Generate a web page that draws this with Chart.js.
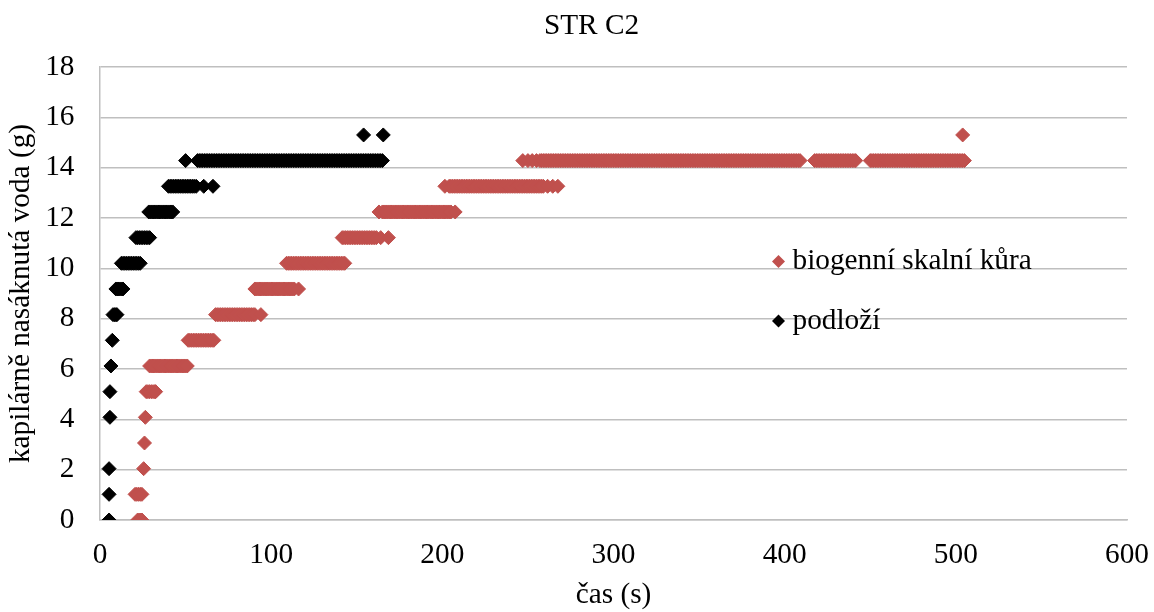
<!DOCTYPE html>
<html>
<head>
    <meta charset="utf-8">
    <title>STR C2</title>
    <script src="https://cdn.jsdelivr.net/npm/chart.js"></script>
    <style>
        html, body {
            margin: 0;
            padding: 0;
            background-color: #ffffff;
        }

        #chartBox {
            width: 1154px;
            height: 612px;
        }
    </style>
</head>
<body>
    <div id="chartBox">
        <canvas id="strChart" width="1154" height="612"></canvas>
    </div>

    <script>
        // mass of absorbed water (g), one level per row of the time arrays below
        var waterLevels = [0, 1.02, 2.04, 3.06, 4.08, 5.10, 6.12, 7.14, 8.16, 9.18, 10.20, 11.22, 12.24, 13.26, 14.28, 15.30];

        // times (s) at which each level was read - biogenní skalní kůra
        var biogenniTimes = [
            [22, 23, 24, 24.5],
            [20.5, 21.5, 22.5, 23.5, 24.5],
            [25.5],
            [26],
            [26.5],
            [27, 28, 29, 30, 31, 32, 32.5],
            [29, 30, 31, 32, 33, 34, 35, 36, 37, 38, 39, 40, 41, 42, 43, 44, 45, 46, 47, 48, 49, 50, 51],
            [51.5, 52.5, 53.5, 54.5, 55.5, 56.5, 57.5, 58.5, 59.5, 60.5, 61.5, 62.5, 63.5, 64.5, 65.5, 66.5],
            [67.5, 68.5, 69.5, 70.5, 71.5, 72.5, 73.5, 74.5, 75.5, 76.5, 77.5, 78.5, 79.5, 80.5, 81.5, 82.5,
             83.5, 84.5, 85.5, 86.5, 87.5, 88.5, 89.5, 90.5, 94],
            [90.5, 91.5, 92.5, 93.5, 94.5, 95.5, 96.5, 97.5, 98.5, 99.5, 100.5, 101.5, 102.5, 103.5, 104.5,
             105.5, 106.5, 107.5, 108.5, 109.5, 110.5, 111.5, 112.5, 113.5, 116],
            [109, 110, 111, 112, 113, 114, 115, 116, 117, 118, 119, 120, 121, 122, 123, 124, 125, 126, 127, 128,
             129, 130, 131, 132, 133, 134, 135, 136, 137, 138, 139, 140, 141, 142, 143],
            [141.5, 142.5, 143.5, 144.5, 145.5, 146.5, 147.5, 148.5, 149.5, 150.5, 151.5, 152.5, 153.5, 154.5,
             155.5, 156.5, 157.5, 158.5, 159.5, 160.5, 161.5, 164, 168.5],
            [163, 165, 166, 167, 168, 169, 170, 171, 172, 173, 174, 175, 176, 177, 178, 179, 180, 181, 182, 183,
             184, 185, 186, 187, 188, 189, 190, 191, 192, 193, 194, 195, 196, 197, 198, 199, 200, 201, 202, 203,
             204, 205, 207.5],
            [201.5, 204, 205, 206, 207, 208, 209, 210, 211, 212, 213, 214, 215, 216, 217, 218, 219, 220, 221, 222,
             223, 224, 225, 226, 227, 228, 229, 230, 231, 232, 233, 234, 235, 236, 237, 238, 239, 240, 241, 242,
             243, 244, 245, 246, 247, 248, 249, 250, 251, 252, 253, 254, 255, 256, 257, 258, 259, 261.5, 264.5, 267.5],
            [247, 250, 252.5, 255, 257,
             258, 259, 260, 261, 262, 263, 264, 265, 266, 267, 268, 269, 270, 271, 272, 273, 274, 275, 276, 277,
             278, 279, 280, 281, 282, 283, 284, 285, 286, 287, 288, 289, 290, 291, 292, 293, 294, 295, 296, 297,
             298, 299, 300, 301, 302, 303, 304, 305, 306, 307, 308, 309, 310, 311, 312, 313, 314, 315, 316, 317,
             318, 319, 320, 321, 322, 323, 324, 325, 326, 327, 328, 329, 330, 331, 332, 333, 334, 335, 336, 337,
             338, 339, 340, 341, 342, 343, 344, 345, 346, 347, 348, 349, 350, 351, 352, 353, 354, 355, 356, 357,
             358, 359, 360, 361, 362, 363, 364, 365, 366, 367, 368, 369, 370, 371, 372, 373, 374, 375, 376, 377,
             378, 379, 380, 381, 382, 383, 384, 385, 386, 387, 388, 389, 390, 391, 392, 393, 394, 395, 396, 397,
             398, 399, 400, 401, 402, 403, 404, 405, 406, 407, 408, 409,
             417.5, 418.5, 419.5, 420.5, 421.5, 422.5, 423.5, 424.5, 425.5, 426.5, 427.5, 428.5, 429.5, 430.5,
             431.5, 432.5, 433.5, 434.5, 435.5, 436.5, 437.5, 438.5, 439.5, 440.5, 441.5,
             450, 451, 452, 453, 454, 455, 456, 457, 458, 459, 460, 461, 462, 463, 464, 465, 466, 467, 468, 469,
             470, 471, 472, 473, 474, 475, 476, 477, 478, 479, 480, 481, 482, 483, 484, 485, 486, 487, 488, 489,
             490, 491, 492, 493, 494, 495, 496, 497, 498, 499, 500, 501, 502, 503, 504, 505],
            [504]
        ];

        // times (s) at which each level was read - podloží
        var podloziTimes = [
            [5.3],
            [5.3],
            [5.3],
            [],
            [5.8],
            [5.8],
            [6.4],
            [7.2],
            [7.6, 8.5, 9.3, 9.9],
            [9.3, 10.5, 11.5, 12.5, 13.4],
            [12.5, 13.5, 14.5, 15.5, 16.5, 17.5, 18.5, 19.5, 20.5, 21.5, 22.5, 23.5],
            [21, 22, 23, 24, 25, 26, 27, 28, 29],
            [28.5, 29.5, 30.5, 31.5, 32.5, 33.5, 34.5, 35.5, 36.5, 37.5, 38.5, 39.5, 40.5, 41.5, 42.5],
            [40, 41, 42, 43, 44, 45, 46, 47, 48, 49, 50, 51, 52, 53, 54, 55, 56.2, 60.6, 66],
            [50,
             57, 58, 59, 60, 61, 62, 63, 64, 65, 66, 67, 68, 69, 70, 71, 72, 73, 74, 75, 76,
             77, 78, 79, 80, 81, 82, 83, 84, 85, 86, 87, 88, 89, 90, 91, 92, 93, 94, 95, 96,
             97, 98, 99, 100, 101, 102, 103, 104, 105, 106, 107, 108, 109, 110, 111, 112, 113, 114, 115, 116,
             117, 118, 119, 120, 121, 122, 123, 124, 125, 126, 127, 128, 129, 130, 131, 132, 133, 134, 135, 136,
             137, 138, 139, 140, 141, 142, 143, 144, 145, 146, 147, 148, 149, 150, 151, 152, 153, 154, 155, 156,
             157, 158, 159, 160, 161, 162, 163, 164, 165],
            [154, 165.5]
        ];

        var seriesNames = ['biogenní skalní kůra', 'podloží'];
        var seriesColors = ['#C0504D', '#000000'];
        var chartTitle = 'STR C2';

        var serif = "'Liberation Serif', 'Times New Roman', serif";
        var textSize = 29.3;
        var gridColor = '#bfbfbf';

        function toPoints(times) {
            var points = [];
            for (var i = 0; i < times.length; i++) {
                for (var j = 0; j < times[i].length; j++) {
                    points.push({ x: times[i][j], y: waterLevels[i] });
                }
            }
            return points;
        }

        // title is offset to the right of the canvas centre, like in the sheet
        var sheetTitle = {
            id: 'sheetTitle',
            afterDraw: function (chart) {
                var ctx = chart.ctx;
                ctx.save();
                ctx.font = textSize + 'px ' + serif;
                ctx.fillStyle = '#000000';
                ctx.textAlign = 'center';
                ctx.textBaseline = 'middle';
                ctx.fillText(chartTitle, 591.5, 26);
                ctx.restore();
            }
        };

        // legend sits inside the plot, to the right
        var innerLegend = {
            id: 'innerLegend',
            afterDatasetsDraw: function (chart) {
                var ctx = chart.ctx;
                var markerX = 778.5;
                var textX = 792.5;
                var rows = [261.5, 321];
                ctx.save();
                ctx.font = textSize + 'px ' + serif;
                ctx.textBaseline = 'middle';
                ctx.textAlign = 'left';
                for (var i = 0; i < seriesNames.length; i++) {
                    var y = rows[i];
                    var r = 6.5;
                    ctx.fillStyle = seriesColors[i];
                    ctx.beginPath();
                    ctx.moveTo(markerX - r, y);
                    ctx.lineTo(markerX, y - r);
                    ctx.lineTo(markerX + r, y);
                    ctx.lineTo(markerX, y + r);
                    ctx.closePath();
                    ctx.fill();
                    ctx.fillStyle = '#000000';
                    ctx.fillText(seriesNames[i], textX, y);
                }
                ctx.restore();
            }
        };

        var strChart = new Chart(document.getElementById('strChart').getContext('2d'), {
            type: 'scatter',
            data: {
                datasets: [{
                    label: seriesNames[0],
                    data: toPoints(biogenniTimes),
                    pointStyle: 'rectRot',
                    pointRadius: 7,
                    borderWidth: 1,
                    borderColor: seriesColors[0],
                    backgroundColor: seriesColors[0]
                }, {
                    label: seriesNames[1],
                    data: toPoints(podloziTimes),
                    pointStyle: 'rectRot',
                    pointRadius: 7,
                    borderWidth: 1,
                    borderColor: seriesColors[1],
                    backgroundColor: seriesColors[1]
                }]
            },
            options: {
                responsive: false,
                animation: false,
                devicePixelRatio: 1,
                events: [],
                layout: {
                    padding: { left: 0, right: 27, top: 67, bottom: 0 }
                },
                plugins: {
                    legend: { display: false },
                    tooltip: { enabled: false },
                    title: { display: false }
                },
                scales: {
                    x: {
                        type: 'linear',
                        min: 0,
                        max: 600,
                        ticks: {
                            stepSize: 100,
                            color: '#000000',
                            padding: 0,
                            font: { family: serif, size: textSize }
                        },
                        // no tick marks are drawn, the tick length only spaces the labels off the axis
                        grid: { display: false, drawTicks: true, tickLength: 17.5 },
                        border: { display: true, color: gridColor, width: 1.5 },
                        title: {
                            display: true,
                            text: 'čas (s)',
                            color: '#000000',
                            font: { family: serif, size: textSize, lineHeight: 1 },
                            padding: { top: 0, bottom: 2 }
                        },
                        afterFit: function (scale) {
                            scale.height = 92;
                        }
                    },
                    y: {
                        min: 0,
                        max: 18,
                        ticks: {
                            stepSize: 2,
                            color: '#000000',
                            padding: 25.5,
                            font: { family: serif, size: textSize }
                        },
                        grid: { color: gridColor, lineWidth: 1.5, drawTicks: false },
                        border: { display: true, color: gridColor, width: 1.5 },
                        title: {
                            display: true,
                            text: 'kapilárně nasáknutá voda (g)',
                            color: '#000000',
                            font: { family: serif, size: textSize },
                            padding: { top: 4, bottom: 0 }
                        },
                        afterFit: function (scale) {
                            scale.width = 100;
                        }
                    }
                }
            },
            plugins: [innerLegend, sheetTitle]
        });
    </script>
</body>
</html>
